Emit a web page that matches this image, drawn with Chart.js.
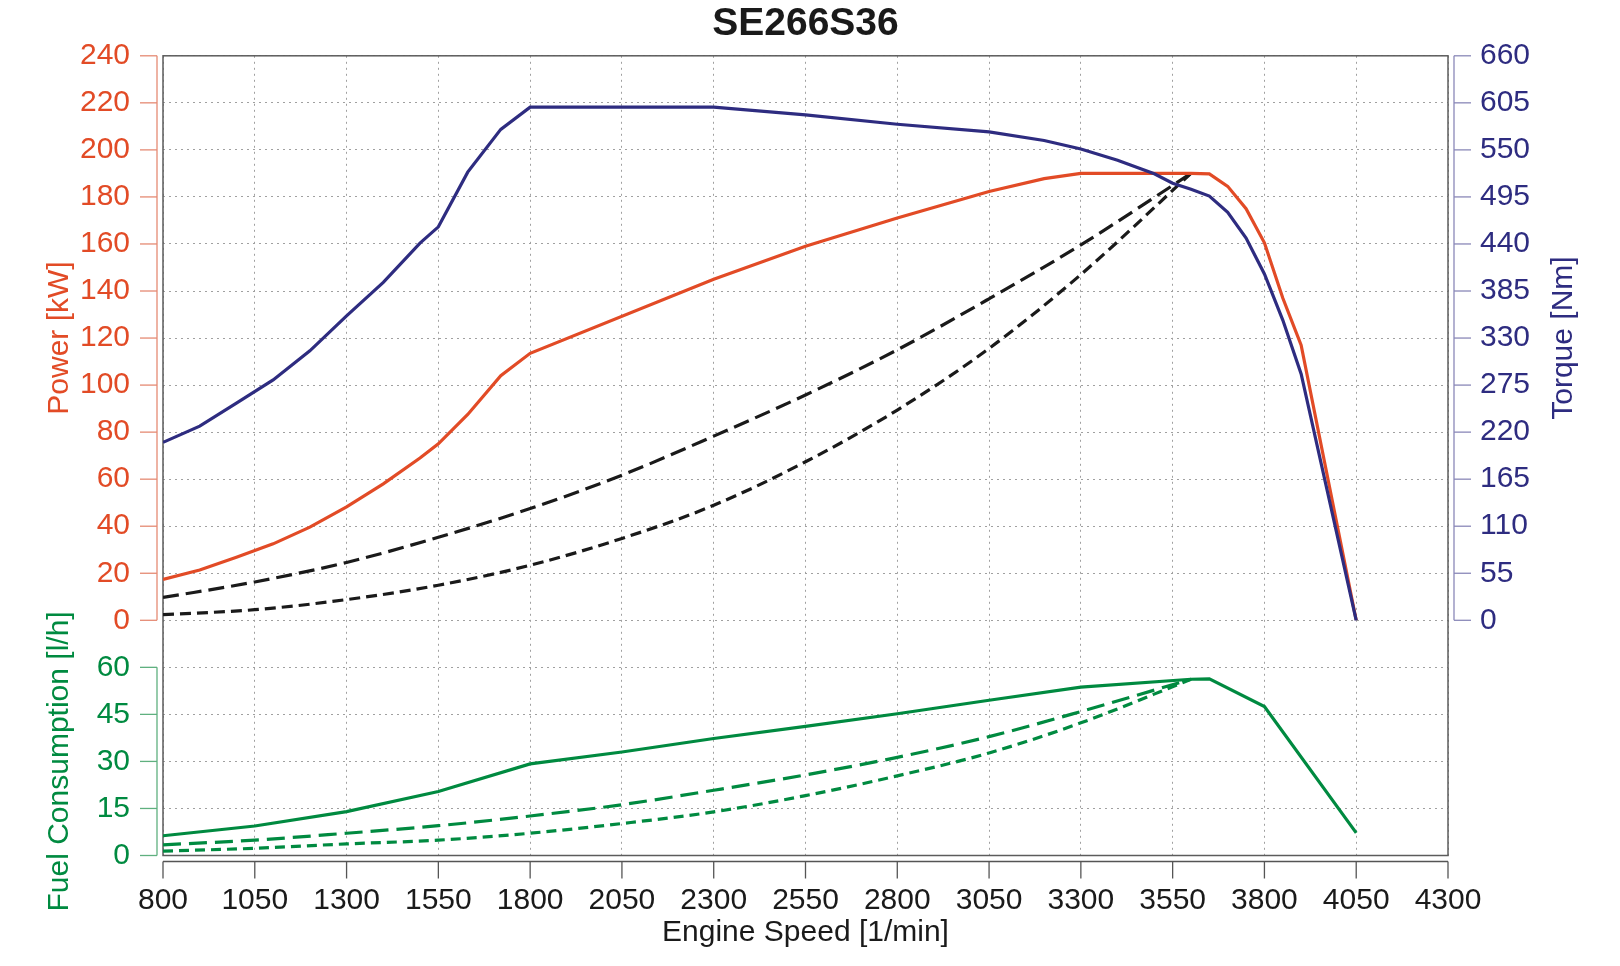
<!DOCTYPE html>
<html>
<head>
<meta charset="utf-8">
<script src="https://cdn.jsdelivr.net/npm/chart.js@4.4.1/dist/chart.umd.min.js"></script>
<style>
  html, body { margin: 0; padding: 0; background: #ffffff; }
  #wrap { width: 1620px; height: 966px; }
</style>
</head>
<body>
<div id="wrap"><canvas id="c" width="1620" height="966"></canvas></div>
<script>
// ---------- data ----------
const chartTitle = 'SE266S36';

// full-load curves (power, torque)
const rpmFull = [800, 900, 1000, 1100, 1200, 1300, 1400, 1500, 1550, 1630, 1720, 1800, 2300, 2550, 2800, 3050, 3200, 3300, 3400, 3500, 3550, 3600, 3650, 3700, 3750, 3800, 3850, 3900, 4050];
const powerFull = [17.4, 21.4, 26.8, 32.5, 39.6, 48.2, 58, 69, 75, 87.5, 104, 113.5, 145, 159, 171, 182.3, 187.8, 190, 190, 190, 190, 190, 189.8, 184.5, 175, 160.5, 137, 117, 0];
const torqueFull = [208, 227, 254, 281, 315, 356, 395, 441, 460, 524, 574, 600, 600, 591, 580, 571, 561, 551, 538, 522, 511, 504, 496, 477, 447, 405, 351, 288, 0];

// propeller curves (power)
const rpmProp = [800, 1050, 1300, 1550, 1800, 2050, 2300, 2550, 2800, 3050, 3300, 3600];
const powerPropA = [9.7, 16.3, 24.6, 35.3, 47.5, 61.7, 78.3, 95.8, 115, 136.7, 159.6, 190];
const powerPropB = [2.4, 4.5, 8.8, 14.9, 23.4, 34.8, 48.9, 67.4, 89.4, 115.6, 147, 190];

// fuel consumption
const rpmFuel = [800, 1050, 1300, 1550, 1800, 2050, 2300, 2550, 2800, 3050, 3300, 3600, 3650, 3800, 4050];
const fuelFull = [6.3, 9.4, 14.0, 20.4, 29.2, 33.0, 37.3, 41.2, 45.2, 49.5, 53.7, 56.2, 56.3, 47.5, 7.2];
const fuelPropA = [3.4, 4.9, 7.1, 9.5, 12.6, 16.2, 20.8, 25.7, 31.3, 37.9, 45.9, 56.2];
const fuelPropB = [1.4, 2.3, 3.7, 4.9, 7.1, 10.2, 13.9, 19.1, 25.4, 32.7, 42.3, 56.2];

// axes
const xMin = 800, xMax = 4300, xStep = 250;
const powerMax = 240, powerStep = 20;
const torqueMax = 660, torqueStep = 55;
const fuelMax = 60, fuelStep = 15;

const xTitle = 'Engine Speed [1/min]';
const powerTitle = 'Power [kW]';
const torqueTitle = 'Torque [Nm]';
const fuelTitle = 'Fuel Consumption [l/h]';

// ---------- styles ----------
const FONT = '"Liberation Sans", Arial, Helvetica, sans-serif';
const C_POWER = '#E24B26';
const C_TORQUE = '#2E2C80';
const C_FUEL = '#008A40';
const C_BLACK = '#1a1a1a';
const GRID = '#a0a0a0';

function pts(xs, ys) { return xs.map((x, i) => ({ x: x, y: ys[i] })); }

const offsetAxes = {
  id: 'offsetAxes',
  beforeDatasetsDraw(chart) {
    const { ctx, chartArea: a } = chart;
    ctx.save();
    ctx.strokeStyle = '#5c5c5c';
    ctx.lineWidth = 1.5;
    ctx.strokeRect(a.left, a.top, a.right - a.left, a.bottom - a.top);
    ctx.restore();
  },
  afterDraw(chart) {
    const { ctx, chartArea: a, scales } = chart;
    const gap = 6, tl = 17;
    ctx.save();
    ctx.lineWidth = 1.3;
    function seg(x1, y1, x2, y2, col) {
      ctx.strokeStyle = col;
      ctx.beginPath(); ctx.moveTo(x1, y1); ctx.lineTo(x2, y2); ctx.stroke();
    }
    // x axis
    const xs = scales.x, yb = a.bottom + gap;
    seg(xs.getPixelForValue(xMin), yb, xs.getPixelForValue(xMax), yb, '#555555');
    xs.ticks.forEach(t => { const p = xs.getPixelForValue(t.value); seg(p, yb, p, yb + tl, '#555555'); });
    // power axis
    const ps = scales.y, xl = a.left - gap;
    seg(xl, ps.getPixelForValue(powerMax), xl, ps.getPixelForValue(0), '#E58A73');
    ps.ticks.forEach(t => { const p = ps.getPixelForValue(t.value); seg(xl, p, xl - tl, p, '#E58A73'); });
    // fuel axis
    const fs = scales.yFuel;
    seg(xl, fs.getPixelForValue(fuelMax), xl, fs.getPixelForValue(0), '#5FB07F');
    fs.ticks.forEach(t => { if (t.value <= fuelMax) { const p = fs.getPixelForValue(t.value); seg(xl, p, xl - tl, p, '#5FB07F'); } });
    // torque axis
    const ts = scales.yT, xr = a.right + gap;
    seg(xr, ts.getPixelForValue(torqueMax), xr, ts.getPixelForValue(0), '#8A88B8');
    ts.ticks.forEach(t => { if (t.value >= 0) { const p = ts.getPixelForValue(t.value); seg(xr, p, xr + tl, p, '#8A88B8'); } });

    // axis titles
    ctx.font = '30px ' + FONT;
    ctx.textAlign = 'center';
    ctx.textBaseline = 'middle';
    function vtext(txt, x, y, col) {
      ctx.save(); ctx.translate(x, y); ctx.rotate(-Math.PI / 2);
      ctx.fillStyle = col; ctx.fillText(txt, 0, 0); ctx.restore();
    }
    vtext(powerTitle, 60, (ps.getPixelForValue(0) + ps.getPixelForValue(powerMax)) / 2, C_POWER);
    vtext(fuelTitle, 60, (fs.getPixelForValue(0) + fs.getPixelForValue(fuelMax)) / 2, C_FUEL);
    vtext(torqueTitle, 1564, (ts.getPixelForValue(0) + ts.getPixelForValue(torqueMax)) / 2, C_TORQUE);
    ctx.fillStyle = C_BLACK;
    ctx.fillText(xTitle, (a.left + a.right) / 2, 933);
    ctx.restore();
  }
};

const lineBase = { pointRadius: 0, pointHoverRadius: 0, borderWidth: 3.2, fill: false, tension: 0 };
const tickFont = { family: FONT, size: 30 };
const plain = v => String(v);

new Chart(document.getElementById('c'), {
  type: 'line',
  data: {
    datasets: [
      Object.assign({}, lineBase, { label: 'Torque', data: pts(rpmFull, torqueFull), borderColor: C_TORQUE, yAxisID: 'yT' }),
      Object.assign({}, lineBase, { label: 'Power', data: pts(rpmFull, powerFull), borderColor: C_POWER, yAxisID: 'y' }),
      Object.assign({}, lineBase, { label: 'Prop A', data: pts(rpmProp, powerPropA), borderColor: C_BLACK, borderDash: [16, 7], cubicInterpolationMode: 'monotone', yAxisID: 'y' }),
      Object.assign({}, lineBase, { label: 'Prop B', data: pts(rpmProp, powerPropB), borderColor: C_BLACK, borderDash: [11, 6], cubicInterpolationMode: 'monotone', yAxisID: 'y' }),
      Object.assign({}, lineBase, { label: 'Fuel', data: pts(rpmFuel, fuelFull), borderColor: C_FUEL, yAxisID: 'yFuel' }),
      Object.assign({}, lineBase, { label: 'Fuel A', data: pts(rpmProp, fuelPropA), borderColor: C_FUEL, borderDash: [18, 8], cubicInterpolationMode: 'monotone', yAxisID: 'yFuel' }),
      Object.assign({}, lineBase, { label: 'Fuel B', data: pts(rpmProp, fuelPropB), borderColor: C_FUEL, borderDash: [10, 6], cubicInterpolationMode: 'monotone', yAxisID: 'yFuel' })
    ]
  },
  options: {
    responsive: false,
    animation: false,
    devicePixelRatio: 1,
    layout: { padding: { top: 0, left: 0, right: 0, bottom: 0 } },
    plugins: {
      legend: { display: false },
      tooltip: { enabled: false },
      title: {
        display: true, text: chartTitle, fullSize: false, color: C_BLACK,
        font: { family: FONT, size: 39, weight: 'bold', lineHeight: 1.2 },
        padding: { top: 1, bottom: 8 }
      }
    },
    scales: {
      x: {
        type: 'linear', position: 'bottom', min: xMin, max: xMax,
        ticks: { stepSize: xStep, color: C_BLACK, font: tickFont, padding: 27, maxRotation: 0, autoSkip: false, callback: plain },
        grid: { color: GRID, lineWidth: 1, drawTicks: false },
        border: { display: false, dash: [2, 4] },
        afterFit(s) { s.height = 110.5; }
      },
      y: {
        type: 'linear', position: 'left', stack: 'left', stackWeight: 12, weight: 2,
        min: 0, max: powerMax,
        ticks: { stepSize: powerStep, color: C_POWER, font: tickFont, padding: 33, autoSkip: false, callback: plain },
        grid: { color: GRID, lineWidth: 1, drawTicks: false },
        border: { display: false, dash: [2, 4] },
        afterFit(s) { s.width = 163; }
      },
      yFuel: {
        type: 'linear', position: 'left', stack: 'left', stackWeight: 5, weight: 1,
        min: 0, max: 75,
        ticks: { stepSize: fuelStep, color: C_FUEL, font: tickFont, padding: 33, autoSkip: false,
          callback: v => (v > fuelMax ? '' : String(v)) },
        grid: { color: GRID, lineWidth: 1, drawTicks: false },
        border: { display: false, dash: [2, 4] },
        afterFit(s) { s.width = 163; }
      },
      yT: {
        type: 'linear', position: 'right', min: -275, max: torqueMax,
        ticks: { stepSize: torqueStep, color: C_TORQUE, font: tickFont, padding: 32, autoSkip: false,
          callback: v => (v < 0 ? '' : String(v)) },
        grid: { display: false, drawTicks: false },
        border: { display: false },
        afterFit(s) { s.width = 172; }
      }
    }
  },
  plugins: [offsetAxes]
});
</script>
</body>
</html>
